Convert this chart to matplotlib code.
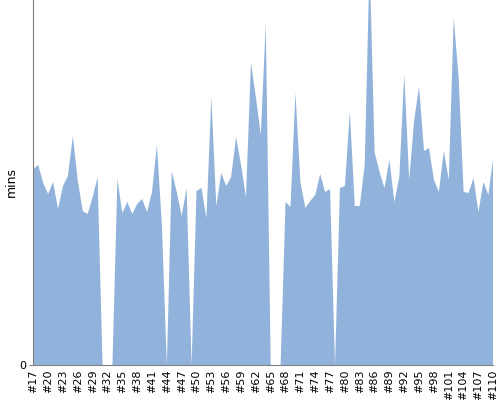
import matplotlib
matplotlib.use('Agg')
import matplotlib.pyplot as plt

# run ids on the x axis
runs = list(range(17, 111))
labels = ['#%d' % r for r in runs]

# minutes per run (0 = no data)
mins = [39.2, 40.0, 36.4, 34.2, 36.6, 31.2, 35.8, 37.8, 45.8, 36.8,
        30.8, 30.2, 33.6, 37.6, 0, 0, 0, 37.2, 30.4, 32.6,
        30.2, 32.2, 33.2, 30.6, 34.6, 44.0, 28.0, 0, 38.8, 34.6,
        29.8, 35.4, 0, 34.8, 35.4, 29.4, 53.6, 31.8, 38.4, 35.8,
        37.6, 45.6, 40.0, 33.6, 60.4, 53.6, 46.0, 68.4, 0, 0,
        0, 32.6, 31.6, 54.4, 36.6, 31.4, 32.8, 34.0, 38.2, 34.6,
        35.2, 0, 35.4, 35.8, 50.6, 31.8, 31.8, 40.0, 81.0, 42.6,
        38.6, 35.4, 41.0, 32.6, 37.6, 58.2, 37.0, 49.0, 55.6, 42.8,
        43.4, 37.0, 34.6, 42.8, 37.0, 69.4, 57.4, 34.6, 34.4, 37.4,
        30.6, 36.6, 34.0, 41.6]

x = list(range(len(mins)))

fig = plt.figure(figsize=(5, 4), dpi=100)
ax = fig.add_axes([0.0666, 0.0875, 0.92, 0.9125])

ax.fill_between(x, mins, 0, color='#91b3db', linewidth=0)

ax.set_xlim(0, len(mins) - 1)
ax.set_ylim(0, 73)

ax.set_xticks(x[::3])
ax.set_xticklabels(labels[::3], rotation=90, fontsize=8)
ax.set_yticks([0])
ax.set_yticklabels(['0'], fontsize=8)
ax.tick_params(axis='x', length=0, pad=3)
ax.tick_params(axis='y', length=3, color='#808080', pad=2)

# y label sits close to the axis
fig.text(0.022, 0.545, 'mins', rotation=90, fontsize=9, ha='center', va='center')

for s in ['top', 'right']:
    ax.spines[s].set_visible(False)
for s in ['left', 'bottom']:
    ax.spines[s].set_color('#808080')

plt.savefig('out.png', dpi=100)
